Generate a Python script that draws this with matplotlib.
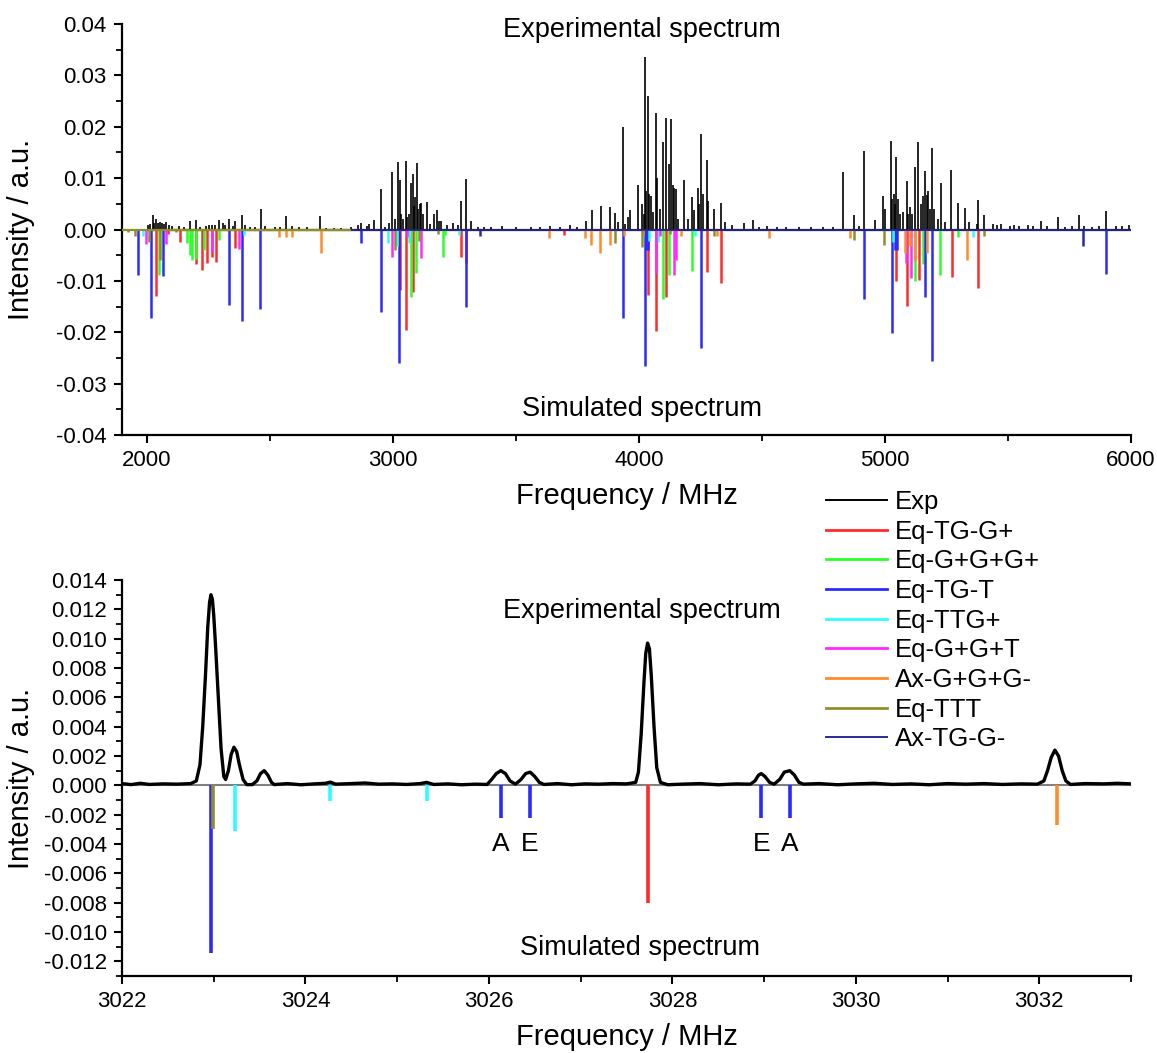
import matplotlib
matplotlib.use("Agg")
import matplotlib.pyplot as plt
from matplotlib.ticker import MultipleLocator, FormatStrFormatter
from matplotlib.lines import Line2D

plt.rcParams['font.family'] = ['Liberation Sans', 'DejaVu Sans']

# ---------------- data: top panel (overview 1900-6000 MHz) ----------------
# experimental lines (frequency MHz, intensity)
exp_lines_2000 = [(2004, .0008), (2012, .0010), (2024, .0029), (2030, .0012), (2038, .0021), (2046, .0013),
                  (2055, .0015), (2062, .0013), (2070, .0011), (2078, .0014), (2090, .0009), (2105, .0006),
                  (2130, .0007), (2150, .0005), (2175, .0016), (2201, .0018), (2215, .0005), (2240, .0007),
                  (2252, .0008), (2265, .0008), (2278, .0009), (2296, .0018), (2312, .0012), (2320, .0008),
                  (2336, .0021), (2350, .0006), (2361, .0017), (2389, .0029), (2400, .0008), (2420, .0005),
                  (2440, .0004), (2463, .0039), (2480, .0006), (2520, .0005), (2540, .0004), (2567, .0026),
                  (2590, .0006), (2620, .0004), (2650, .0004), (2704, .0027), (2730, .0003), (2760, .0003),
                  (2790, .0003)]
exp_lines_3000 = [(2830, .0004), (2858, .0008), (2873, .0013), (2895, .0006), (2903, .0010), (2922, .0018),
                  (2953, .0079), (2970, .0005), (2985, .0013), (2998, .0111), (3010, .0020), (3022, .0131),
                  (3029, .0096), (3035, .0030), (3040, .0020), (3052, .0134), (3060, .0025), (3068, .0030),
                  (3075, .0091), (3083, .0109), (3088, .0045), (3092, .0063), (3099, .0130), (3104, .0040),
                  (3110, .0050), (3116, .0052), (3122, .0030), (3140, .0053), (3150, .0010), (3167, .0031),
                  (3178, .0037), (3190, .0017), (3198, .0017), (3220, .0008), (3245, .0013), (3265, .0008),
                  (3279, .0055), (3297, .0098), (3320, .0016), (3345, .0005), (3370, .0005), (3400, .0004)]
exp_lines_4000 = [(3444, .0006), (3500, .0005), (3560, .0004), (3600, .0005), (3640, .0006), (3680, .0005),
                  (3720, .0008), (3750, .0005), (3787, .0016), (3810, .0037), (3846, .0045), (3881, .0043),
                  (3902, .0033), (3915, .0015), (3934, .0199), (3945, .0010), (3958, .0024), (3963, .0037),
                  (3998, .0086), (4013, .0049), (4020, .0030), (4026, .0336), (4031, .0075), (4036, .0260),
                  (4042, .0070), (4050, .0066), (4058, .0035), (4071, .0227), (4075, .0100), (4085, .0040),
                  (4098, .0171), (4110, .0217), (4121, .0128), (4132, .0215), (4138, .0086), (4143, .0080),
                  (4150, .0079), (4160, .0020), (4185, .0097), (4200, .0020), (4216, .0063), (4225, .0038),
                  (4239, .0081), (4246, .0050), (4254, .0185), (4262, .0069), (4278, .0135), (4282, .0055),
                  (4305, .0039), (4335, .0052), (4350, .0015), (4380, .0008), (4428, .0013), (4465, .0018),
                  (4490, .0005)]
exp_lines_5000 = [(4520, .0006), (4560, .0005), (4600, .0004), (4650, .0005), (4700, .0004), (4750, .0005),
                  (4790, .0004), (4828, .0112), (4875, .0028), (4895, .0006), (4916, .0152), (4960, .0019),
                  (4994, .0065), (4999, .0039), (5025, .0172), (5030, .0060), (5035, .0070), (5040, .0050),
                  (5046, .0141), (5052, .0060), (5060, .0030), (5075, .0035), (5089, .0095), (5094, .0030),
                  (5104, .0044), (5110, .0030), (5123, .0121), (5136, .0171), (5145, .0050), (5155, .0065),
                  (5164, .0113), (5170, .0068), (5176, .0075), (5182, .0040), (5191, .0158), (5200, .0040),
                  (5215, .0020), (5228, .0090), (5245, .0015), (5269, .0115), (5296, .0052), (5326, .0042),
                  (5340, .0015), (5375, .0010), (5380, .0057), (5403, .0028), (5440, .0010), (5455, .0008),
                  (5470, .0010), (5510, .0006), (5525, .0008), (5545, .0006), (5580, .0008), (5600, .0006),
                  (5635, .0016), (5660, .0006), (5705, .0025), (5730, .0005), (5760, .0006), (5789, .0029),
                  (5810, .0006), (5840, .0004), (5870, .0006), (5897, .0036), (5940, .0006), (5965, .0007),
                  (5990, .0008)]

sim_freq = {
    'Eq-TG-G+': [2038, 2086, 2135, 2199, 2224, 2244, 2264, 2280, 2361, 3029, 3054, 3083, 3278, 3299,
                 3695, 4037, 4071, 4110, 4278, 4335, 5046, 5091, 5138, 5272, 5380],
    'Eq-G+G+G+': [2050, 2166, 2177, 2186, 2199, 2233, 2295, 3075, 3095, 3205, 3213, 4098, 4121, 4216,
                  5123, 5155, 5224, 5296],
    'Eq-TG-T': [1967, 2017, 2068, 2336, 2387, 2462, 2873, 2953, 3025, 3297, 3934, 4026, 4031, 4036,
                4254, 4916, 5028, 5040, 5051, 5164, 5191, 5897],
    'Eq-TTG+': [1987, 2394, 2981, 3019, 3066, 3271, 4040, 4080, 4227, 5031, 5360],
    'Eq-G+G+T': [1997, 2079, 2264, 2377, 2998, 3058, 3116, 4071, 4085, 4142, 4150, 5086, 5106],
    'Ax-G+G+G-': [2539, 2566, 2590, 2708, 3634, 3783, 3806, 3844, 3881, 3941, 4018, 4170, 4319, 4531,
                  4859, 5081, 5101, 5124, 5171, 5334],
    'Eq-TTT': [1923, 1952, 2011, 2056, 2120, 3011, 3108, 3185, 3902, 4013, 4127, 4305, 4875, 4998, 5403],
    'Ax-TG-G-': [3353, 5804],
}
sim_int = {
    'Eq-TG-G+': [-0.0130, -0.0008, -0.0024, -0.0067, -0.0078, -0.0066, -0.0053, -0.0063, -0.0036, -0.0118,
                 -0.0196, -0.0121, -0.0054, -0.0065, -0.0010, -0.0128, -0.0198, -0.0131, -0.0083, -0.0104,
                 -0.0101, -0.0149, -0.0099, -0.0092, -0.0114],
    'Eq-G+G+G+': [-0.0088, -0.0027, -0.0050, -0.0060, -0.0058, -0.0040, -0.0020, -0.0131, -0.0085, -0.0053,
                  -0.0010, -0.0135, -0.0089, -0.0081, -0.0101, -0.0068, -0.0089, -0.0015],
    'Eq-TG-T': [-0.0089, -0.0172, -0.0091, -0.0146, -0.0178, -0.0154, -0.0027, -0.0160, -0.0260, -0.0150,
                -0.0172, -0.0265, -0.0040, -0.0040, -0.0230, -0.0136, -0.0201, -0.0039, -0.0039, -0.0131,
                -0.0255, -0.0086],
    'Eq-TTG+': [-0.0013, -0.0010, -0.0027, -0.0033, -0.0027, -0.0010, -0.0022, -0.0025, -0.0013, -0.0025,
                -0.0014],
    'Eq-G+G+T': [-0.0029, -0.0029, -0.0043, -0.0038, -0.0053, -0.0015, -0.0055, -0.0084, -0.0012, -0.0089,
                 -0.0060, -0.0065, -0.0095],
    'Ax-G+G+G-': [-0.0015, -0.0015, -0.0015, -0.0045, -0.0016, -0.0016, -0.0031, -0.0045, -0.0031, -0.0013,
                  -0.0010, -0.0013, -0.0013, -0.0016, -0.0016, -0.0045, -0.0032, -0.0062, -0.0045, -0.0060],
    'Eq-TTT': [-0.0005, -0.0013, -0.0025, -0.0060, -0.0005, -0.0040, -0.0022, -0.0009, -0.0027, -0.0035,
               -0.0008, -0.0013, -0.0021, -0.0031, -0.0013],
    'Ax-TG-G-': [-0.0012, -0.0033],
}
exp_range = [2000, 6000]
sim_baseline_ttt = [1900, 2830]
sim_baseline_axtg = [2830, 6000]

# ---------------- data: bottom panel (zoom 3022-3033 MHz) ----------------
zoom_trace = [(3022.00, 0.00012), (3022.10, 0.00005), (3022.20, 0.00014), (3022.30, 0.00006),
              (3022.45, 0.00010), (3022.60, 0.00008), (3022.75, 0.00012), (3022.81, 0.0003),
              (3022.85, 0.0014), (3022.88, 0.0040), (3022.91, 0.0075), (3022.935, 0.0108),
              (3022.955, 0.0125), (3022.97, 0.0130), (3022.985, 0.0127), (3023.00, 0.0116),
              (3023.02, 0.0095), (3023.05, 0.0060), (3023.08, 0.0025), (3023.11, 0.0006),
              (3023.13, 0.0004), (3023.16, 0.0010), (3023.19, 0.0021), (3023.22, 0.0026),
              (3023.25, 0.0023), (3023.28, 0.0014), (3023.32, 0.0004), (3023.36, 0.00005),
              (3023.42, 0.00005), (3023.47, 0.0003), (3023.51, 0.0008), (3023.55, 0.0010),
              (3023.59, 0.0007), (3023.63, 0.0002), (3023.66, 0.00005), (3023.80, 0.00012),
              (3023.95, 0.00004), (3024.10, 0.00010), (3024.22, 0.00014), (3024.27, 0.00022),
              (3024.33, 0.00008), (3024.50, 0.00012), (3024.65, 0.00016), (3024.80, 0.00008),
              (3024.95, 0.00010), (3025.10, 0.00006), (3025.25, 0.00012), (3025.32, 0.00020),
              (3025.40, 0.00006), (3025.55, 0.00010), (3025.70, 0.00004), (3025.85, 0.00008),
              (3025.98, 0.00006), (3026.03, 0.0004), (3026.08, 0.0008), (3026.13, 0.0010),
              (3026.18, 0.0008), (3026.23, 0.0003), (3026.29, 0.00008), (3026.35, 0.0004),
              (3026.40, 0.0008), (3026.45, 0.0009), (3026.50, 0.0006), (3026.55, 0.0002),
              (3026.60, 0.00006), (3026.75, 0.00012), (3026.90, 0.00004), (3027.05, 0.00010),
              (3027.20, 0.00008), (3027.35, 0.00012), (3027.50, 0.00010), (3027.60, 0.0002),
              (3027.63, 0.0009), (3027.66, 0.0035), (3027.69, 0.0070), (3027.71, 0.0090),
              (3027.73, 0.0097), (3027.75, 0.0093), (3027.77, 0.0075), (3027.80, 0.0040),
              (3027.83, 0.0012), (3027.87, 0.0002), (3027.95, 0.00004), (3028.10, 0.00008),
              (3028.30, 0.00012), (3028.50, 0.00004), (3028.70, 0.00010), (3028.85, 0.00008),
              (3028.90, 0.0003), (3028.94, 0.0007), (3028.97, 0.0008), (3029.01, 0.0006),
              (3029.06, 0.0002), (3029.11, 0.00008), (3029.17, 0.0004), (3029.22, 0.0009),
              (3029.28, 0.0010), (3029.33, 0.0007), (3029.38, 0.0002), (3029.43, 0.00008),
              (3029.60, 0.00012), (3029.80, 0.00004), (3030.00, 0.00010), (3030.20, 0.00014),
              (3030.40, 0.00006), (3030.60, 0.00010), (3030.80, 0.00004), (3031.00, 0.00012),
              (3031.20, 0.00008), (3031.40, 0.00012), (3031.60, 0.00006), (3031.80, 0.00010),
              (3031.98, 0.00008), (3032.05, 0.0003), (3032.09, 0.0010), (3032.13, 0.0019),
              (3032.17, 0.0024), (3032.21, 0.0020), (3032.25, 0.0010), (3032.29, 0.0003),
              (3032.34, 0.00006), (3032.50, 0.00012), (3032.70, 0.00010), (3032.85, 0.00014),
              (3033.00, 0.00010)]

zoom_sim_freq = {
    'Eq-TG-T': [3022.97, 3026.13, 3026.45, 3028.97, 3029.28],
    'Eq-TTT': [3022.99],
    'Eq-TTG+': [3023.23, 3024.27, 3025.32],
    'Eq-TG-G+': [3027.73],
    'Ax-G+G+G-': [3032.19],
}
zoom_sim_int = {
    'Eq-TG-T': [-0.0114, -0.0022, -0.0022, -0.0022, -0.0022],
    'Eq-TTT': [-0.0030],
    'Eq-TTG+': [-0.0031, -0.0011, -0.0011],
    'Eq-TG-G+': [-0.0080],
    'Ax-G+G+G-': [-0.0027],
}
ae_labels = ['A', 'E', 'E', 'A']
ae_freq = [3026.13, 3026.45, 3028.97, 3029.28]

series_names = ['Eq-TG-G+', 'Eq-G+G+G+', 'Eq-TG-T', 'Eq-TTG+', 'Eq-G+G+T', 'Ax-G+G+G-', 'Eq-TTT', 'Ax-TG-G-']
colors = {'Eq-TG-G+': '#ff2a2a', 'Eq-G+G+G+': '#2aff2a', 'Eq-TG-T': '#2a2aff', 'Eq-TTG+': '#2affff',
          'Eq-G+G+T': '#ff2aff', 'Ax-G+G+G-': '#ff8c2a', 'Eq-TTT': '#8f8f2a', 'Ax-TG-G-': '#2a2a9a'}

exp_lines = exp_lines_2000 + exp_lines_3000 + exp_lines_4000 + exp_lines_5000
exp_freq = [p[0] for p in exp_lines]
exp_int = [p[1] for p in exp_lines]
zoom_freq = [p[0] for p in zoom_trace]
zoom_int = [p[1] for p in zoom_trace]

# ---------------- figure ----------------
W, H = 1157, 1053
fig = plt.figure(figsize=(W / 100, H / 100), dpi=100)

def frac(l, t, r, b):
    return [l / W, 1 - b / H, (r - l) / W, (b - t) / H]

ax1 = fig.add_axes(frac(122, 24, 1131, 435))
ax2 = fig.add_axes(frac(122, 580, 1131, 976))

tickfont = ['Liberation Sans Narrow', 'Liberation Sans', 'DejaVu Sans']

def style(ax):
    for s in ['top', 'right']:
        ax.spines[s].set_visible(False)
    for s in ['left', 'bottom']:
        ax.spines[s].set_linewidth(1.6)
    ax.tick_params(which='major', direction='out', length=6, width=1.5, labelsize=16, pad=5)
    ax.tick_params(which='minor', direction='out', length=4, width=1.3)
    for lab in ax.get_xticklabels() + ax.get_yticklabels():
        lab.set_family(tickfont)

# ---- top panel ----
ax1.hlines(0, exp_range[0], exp_range[1], color='black', lw=1.6, zorder=2)
ax1.vlines(exp_freq, 0, exp_int, color='black', lw=1.2, zorder=2)
for name in series_names:
    ax1.vlines(sim_freq[name], 0, sim_int[name], color=colors[name], lw=1.8, zorder=3)
ax1.hlines(0, sim_baseline_ttt[0], sim_baseline_ttt[1], color=colors['Eq-TTT'], lw=1.6, zorder=4)
ax1.hlines(0, sim_baseline_axtg[0], sim_baseline_axtg[1], color=colors['Ax-TG-G-'], lw=1.2, zorder=4)
ax1.set_xlim(1900, 6000)
ax1.set_ylim(-0.04, 0.04)
ax1.xaxis.set_major_locator(MultipleLocator(1000))
ax1.xaxis.set_minor_locator(MultipleLocator(500))
ax1.yaxis.set_major_locator(MultipleLocator(0.01))
ax1.yaxis.set_minor_locator(MultipleLocator(0.005))
ax1.yaxis.set_major_formatter(FormatStrFormatter('%.2f'))
style(ax1)
ax1.set_xlabel('Frequency / MHz', fontsize=21)
ax1.set_ylabel('Intensity / a.u.', fontsize=21)
ax1.xaxis.set_label_coords(0.5, -0.115)
ax1.yaxis.set_label_coords(-0.086, 0.5)
ax1.text(0.515, 0.985, 'Experimental spectrum', transform=ax1.transAxes, ha='center', va='center', fontsize=19.5)
ax1.text(0.515, 0.063, 'Simulated spectrum', transform=ax1.transAxes, ha='center', va='center', fontsize=19.5)

# ---- bottom panel ----
ax2.axhline(0, color='#808080', lw=1.5, zorder=1)
ax2.plot(zoom_freq, zoom_int, color='black', lw=2.4, zorder=3)
for name in series_names:
    if name in zoom_sim_freq:
        ax2.vlines(zoom_sim_freq[name], 0, zoom_sim_int[name], color=colors[name], lw=2.6, zorder=2)
for lab, f in zip(ae_labels, ae_freq):
    ax2.text(f, -0.0040, lab, ha='center', va='center', fontsize=19)
ax2.set_xlim(3022, 3033)
ax2.set_ylim(-0.013, 0.014)
ax2.xaxis.set_major_locator(MultipleLocator(2))
ax2.xaxis.set_minor_locator(MultipleLocator(1))
ax2.yaxis.set_major_locator(MultipleLocator(0.002))
ax2.yaxis.set_minor_locator(MultipleLocator(0.001))
ax2.yaxis.set_major_formatter(FormatStrFormatter('%.3f'))
style(ax2)
ax2.set_xlabel('Frequency / MHz', fontsize=21)
ax2.set_ylabel('Intensity / a.u.', fontsize=21)
ax2.xaxis.set_label_coords(0.5, -0.118)
ax2.yaxis.set_label_coords(-0.086, 0.5)
ax2.text(0.515, 0.922, 'Experimental spectrum', transform=ax2.transAxes, ha='center', va='center', fontsize=19.5)
ax2.text(0.513, 0.071, 'Simulated spectrum', transform=ax2.transAxes, ha='center', va='center', fontsize=19.5)

# ---- legend ----
handles = [Line2D([], [], color='black', lw=1.4)]
handles += [Line2D([], [], color=colors[n], lw=2.0 if n != 'Ax-TG-G-' else 1.4) for n in series_names]
labels = ['Exp'] + series_names
fig.legend(handles, labels, loc='upper left', bbox_to_anchor=(826 / W, 1 - 490 / H),
           frameon=False, fontsize=18.5, handlelength=2.37, handletextpad=0.3,
           labelspacing=0.22, borderpad=0, borderaxespad=0)

fig.savefig('out.png', dpi=100)
